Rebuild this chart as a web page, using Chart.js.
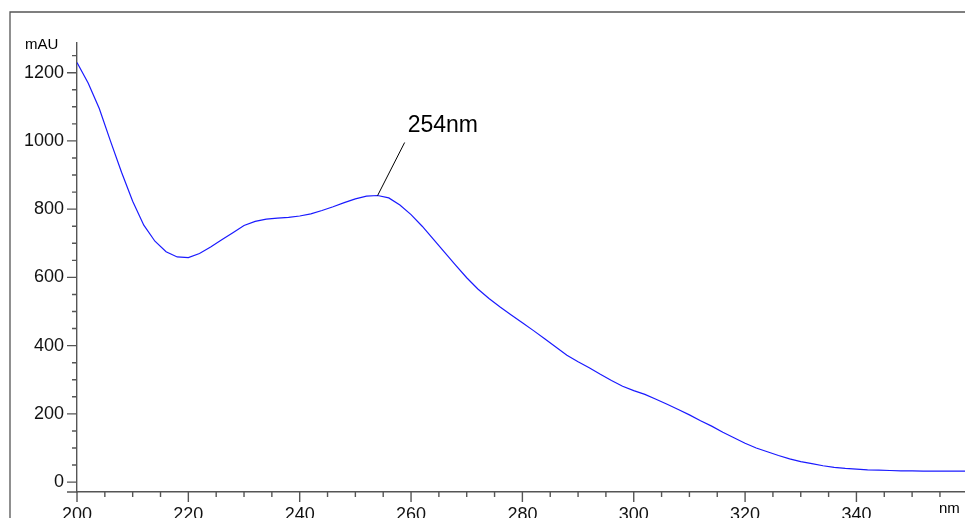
<!DOCTYPE html>
<html>
<head>
<meta charset="utf-8">
<script src="https://cdn.jsdelivr.net/npm/chart.js@4.4.1/dist/chart.umd.min.js"></script>
<style>
html,body{margin:0;padding:0;background:#fff;overflow:hidden;}
#wrap{position:relative;width:965px;height:518px;}
</style>
</head>
<body>
<div id="wrap"><canvas id="c" width="965" height="518"></canvas></div>
<script>
const wavelengths = [200,202,204,206,208,210,212,214,216,218,220,222,224,226,228,230,232,234,236,238,240,242,244,246,248,250,252,254,256,258,260,262,264,266,268,270,272,274,276,278,280,282,284,286,288,290,292,294,296,298,300,302,304,306,308,310,312,314,316,318,320,322,324,326,328,330,332,334,336,338,340,342,344,346,348,350,352,354,356,358,360];
const absorbance = [1230,1170,1095,1000,908,823,753,706,675,660,658,670,689,710,731,752,764,771,774,776,780,786,796,807,819,830,838,840,833,812,784,750,712,674,636,599,566,538,513,490,467,444,420,396,372,353,335,316,298,281,268,257,243,228,213,197,180,164,146,130,114,100,89,78,68,60,54,48,43,40,38,36,35,34,33,33,32,32,32,32,32];
const xMajorStep = 20, xMinorStep = 5;
const yMajorStep = 200, yMinorStep = 50;
const peakLabel = '254nm', peakX = 254, peakY = 840;
const yUnit = 'mAU', xUnit = 'nm';

const FONT = "'Liberation Sans', Arial, Helvetica, sans-serif";
const AXIS = '#555';

const decor = {
  id: 'decor',
  afterDraw(chart) {
    const ctx = chart.ctx, xs = chart.scales.x, ys = chart.scales.y;
    ctx.save();
    // frame
    ctx.strokeStyle = '#555'; ctx.lineWidth = 1.3;
    ctx.beginPath(); ctx.moveTo(10, 518); ctx.lineTo(10, 12); ctx.lineTo(965, 12); ctx.stroke();
    // ticks
    ctx.strokeStyle = AXIS; ctx.lineWidth = 1.4;
    ctx.beginPath();
    xs.ticks.forEach(t => {
      const px = xs.getPixelForValue(t.value);
      const len = (t.value % xMajorStep === 0) ? 10 : 5;
      ctx.moveTo(px, xs.top); ctx.lineTo(px, xs.top + len);
    });
    ys.ticks.forEach(t => {
      const py = ys.getPixelForValue(t.value);
      const len = (t.value % yMajorStep === 0) ? 10 : 5;
      ctx.moveTo(ys.right - len, py); ctx.lineTo(ys.right, py);
    });
    // axis extensions
    ctx.moveTo(ys.right - 10, xs.top); ctx.lineTo(ys.right, xs.top);
    ctx.moveTo(ys.right, xs.top); ctx.lineTo(ys.right, xs.top + 10);
    ctx.stroke();
    // unit labels
    ctx.fillStyle = '#000';
    ctx.font = '15px ' + FONT;
    ctx.textAlign = 'left'; ctx.textBaseline = 'alphabetic';
    ctx.fillText(yUnit, 25, 49);
    ctx.fillText(xUnit, 939, 512.5);
    // peak annotation
    const sx = xs.getPixelForValue(peakX), sy = ys.getPixelForValue(peakY);
    ctx.strokeStyle = '#000'; ctx.lineWidth = 1;
    ctx.beginPath(); ctx.moveTo(sx, sy); ctx.lineTo(sx + 27, sy - 53); ctx.stroke();
    ctx.font = '23px ' + FONT;
    ctx.fillText(peakLabel, sx + 30, sy - 64);
    ctx.restore();
  }
};

new Chart(document.getElementById('c'), {
  type: 'line',
  data: {
    datasets: [{
      data: wavelengths.map((w, i) => ({x: w, y: absorbance[i]})),
      borderColor: '#1a1aff',
      borderWidth: 1.2,
      pointRadius: 0,
      tension: 0,
      fill: false
    }]
  },
  options: {
    responsive: false,
    animation: false,
    devicePixelRatio: 1,
    layout: {padding: {top: 43, left: 0, right: 0, bottom: 0}},
    plugins: {legend: {display: false}, tooltip: {enabled: false}},
    scales: {
      x: {
        type: 'linear',
        min: 200, max: 359.5,
        afterFit: s => { s.height = 26; },
        border: {color: AXIS, width: 1.4},
        grid: {drawOnChartArea: false, tickLength: 10, tickColor: 'rgba(0,0,0,0)'},
        ticks: {
          stepSize: xMinorStep, includeBounds: false, autoSkip: false, maxRotation: 0,
          padding: 2, color: '#111', font: {family: FONT, size: 18},
          callback: v => (v % xMajorStep === 0 ? String(v) : '')
        }
      },
      y: {
        type: 'linear',
        min: -29, max: 1287,
        afterFit: s => { s.width = 77; },
        border: {color: AXIS, width: 1.4},
        grid: {drawOnChartArea: false, tickLength: 10, tickColor: 'rgba(0,0,0,0)'},
        ticks: {
          stepSize: yMinorStep, includeBounds: false, autoSkip: false,
          padding: 3, color: '#111', font: {family: FONT, size: 18},
          callback: v => (v % yMajorStep === 0 ? String(v) : '')
        }
      }
    }
  },
  plugins: [decor]
});
</script>
</body>
</html>
